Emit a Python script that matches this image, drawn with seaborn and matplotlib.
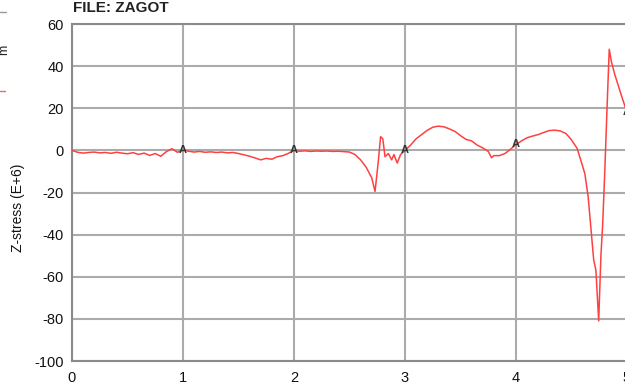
import numpy as np
import pandas as pd
import matplotlib
matplotlib.use("Agg")
import matplotlib.pyplot as plt
import seaborn as sns
from matplotlib.ticker import MultipleLocator

# ---- data ----
x_vals = [0.00, 0.05, 0.10, 0.15, 0.20, 0.25, 0.30, 0.35, 0.40, 0.45,
          0.50, 0.55, 0.60, 0.65, 0.70, 0.75, 0.80, 0.85, 0.90, 0.95,
          1.00, 1.05, 1.10, 1.15, 1.20, 1.25, 1.30, 1.35, 1.40, 1.45,
          1.50, 1.55, 1.60, 1.65, 1.70, 1.75, 1.80, 1.85, 1.90, 1.95,
          2.00, 2.05, 2.10, 2.15, 2.20, 2.25, 2.30, 2.35, 2.40, 2.45,
          2.50, 2.55, 2.60, 2.65, 2.70, 2.73, 2.76, 2.78, 2.80, 2.82,
          2.85, 2.88, 2.90, 2.93, 2.96, 3.00, 3.05, 3.10, 3.15, 3.20,
          3.25, 3.30, 3.35, 3.40, 3.45, 3.50, 3.55, 3.60, 3.65, 3.70,
          3.75, 3.78, 3.80, 3.85, 3.90, 3.95, 4.00, 4.05, 4.10, 4.15,
          4.20, 4.25, 4.30, 4.35, 4.40, 4.45, 4.50, 4.55, 4.58, 4.62,
          4.65, 4.68, 4.70, 4.72, 4.745, 4.765, 4.78, 4.80, 4.82, 4.84,
          4.86, 4.89, 4.95, 5.00]
z_stress = [0.0, -0.9, -1.3, -1.0, -0.8, -1.2, -1.0, -1.4, -0.9, -1.3,
            -1.6, -1.1, -1.9, -1.3, -2.4, -1.5, -2.8, -0.6, 0.8, -0.9,
            0.2, -0.4, -0.8, -0.5, -0.9, -0.7, -1.0, -0.8, -1.2, -1.0,
            -1.5, -2.1, -2.8, -3.6, -4.5, -3.8, -4.2, -3.0, -2.5, -1.4,
            0.0, -0.4, -0.2, -0.5, -0.3, -0.4, -0.3, -0.5, -0.4, -0.6,
            -0.8, -2.0, -4.5, -8.0, -13.0, -19.5, -5.0, 6.5, 5.5, -3.0,
            -1.5, -4.5, -2.0, -6.0, -2.0, 0.0, 2.5, 5.5, 7.5, 9.5,
            11.0, 11.5, 11.2, 10.2, 9.0, 7.0, 5.2, 4.5, 2.5, 1.2,
            -0.5, -3.5, -2.5, -2.5, -1.5, 0.5, 2.8, 4.5, 6.0, 6.8,
            7.5, 8.5, 9.4, 9.6, 9.2, 8.0, 5.0, 1.0, -4.0, -11.0,
            -22.0, -40.0, -52.0, -57.0, -81.0, -50.0, -36.0, -10.0, 20.0, 48.0,
            42.0, 36.0, 26.0, 18.0]
marker_x = [1, 2, 3, 4, 5]
marker_y = [0.2, 0.0, 0.0, 2.8, 18.0]
x_ticks = [0, 1, 2, 3, 4, 5]
y_ticks = [-100, -80, -60, -40, -20, 0, 20, 40, 60]

df = pd.DataFrame({"x": x_vals, "z": z_stress})

sns.set_style("white")
plt.rcParams["font.family"] = ["Liberation Sans", "DejaVu Sans"]
plt.rcParams["axes.unicode_minus"] = False

fig = plt.figure(figsize=(6.25, 3.9), dpi=100)
W, H = 625, 390
ax = fig.add_axes([72 / W, 1 - 361 / H, (627 - 72) / W, (361 - 24) / H])

grid_c = "#ababab"
for xv in x_ticks:
    ax.axvline(xv, color=grid_c, lw=1.5, zorder=0)
for yv in y_ticks:
    ax.axhline(yv, color=grid_c, lw=1.5, zorder=0)

sns.lineplot(data=df, x="x", y="z", ax=ax, color="#ff4040", lw=1.1,
             estimator=None, sort=False, zorder=3)

for mx, my in zip(marker_x, marker_y):
    ax.text(mx, my, "A", ha="center", va="center", fontsize=8,
            fontweight="bold", color="#333333", zorder=4)

ax.set_xlim(0, 5)
ax.set_ylim(-100, 60)
ax.set_xticks(x_ticks)
ax.set_yticks(y_ticks)
ax.xaxis.set_minor_locator(MultipleLocator(0.5))
ax.yaxis.set_minor_locator(MultipleLocator(10))
ax.tick_params(axis="both", which="major", direction="out", length=4,
               width=1.2, color="#888888", labelsize=10.5, labelcolor="#111111")
ax.tick_params(axis="both", which="minor", direction="in", length=3,
               width=1.0, color="#888888")
ax.tick_params(axis="x", pad=3)
ax.tick_params(axis="y", pad=2)
ax.set_xlabel("")
ax.set_ylabel("")
for s in ax.spines.values():
    s.set_color("#8a8a8a")
    s.set_linewidth(1.5)

fig.text(18 / W, 1 - 208 / H, "Z-stress (E+6)", rotation=90, ha="center",
         va="center", fontsize=10, color="#111111")
fig.text(73 / W, 1 - 12 / H, "FILE: ZAGOT", ha="left", va="baseline",
         fontsize=11, fontweight="bold", color="#222222")
# remnants of neighbouring legend at far left
fig.text(-2 / W, 1 - 50 / H, "m", rotation=90, ha="left", va="center",
         fontsize=9, color="#222222")
fig.add_artist(plt.Line2D([0, 6 / W], [1 - 12 / H, 1 - 12 / H],
                          transform=fig.transFigure, color="#999999", lw=1))
fig.add_artist(plt.Line2D([0, 5 / W], [1 - 91 / H, 1 - 91 / H],
                          transform=fig.transFigure, color="#ff6060", lw=1))

fig.savefig("out.png", dpi=100)
